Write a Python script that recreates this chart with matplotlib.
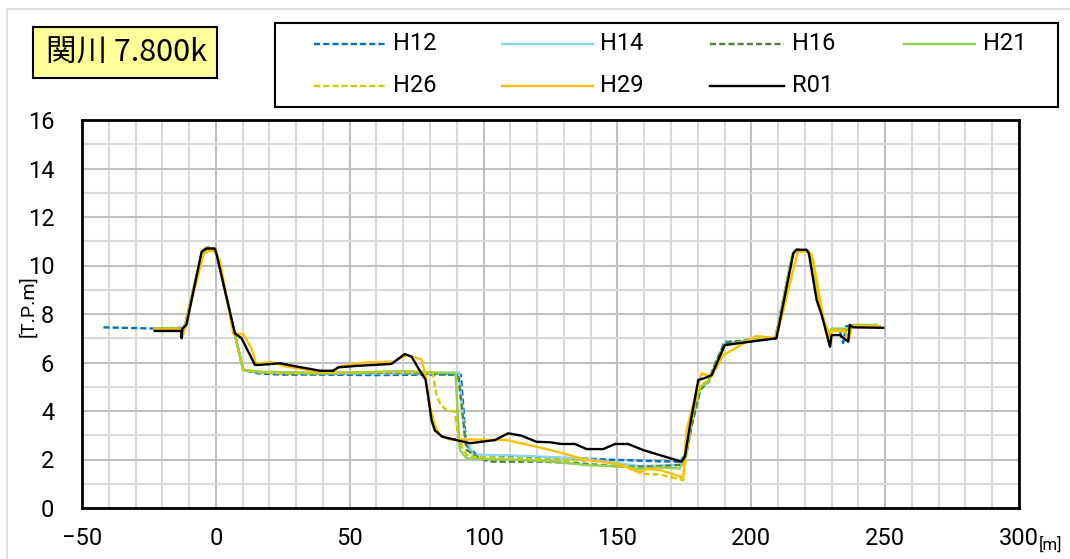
import matplotlib
matplotlib.use('Agg')
import matplotlib.pyplot as plt
from matplotlib.lines import Line2D
from matplotlib.patches import Rectangle

NUMF = 'Roboto'
CJK = 'Noto Sans CJK JP'

# ---------------- data ----------------
title_text = "関川 7.800k"
series_names = ["H12", "H14", "H16", "H21", "H26", "H29", "R01"]

h12_x = [-42, -23, -13, -12.6, -11.5, -5, -3, -1, 0.5, 7, 10.2, 16, 25, 40, 60, 80, 91.5, 93.5, 97.4,
         110, 121, 135, 149.7, 165, 173.3, 175.8, 178, 181, 184, 186, 190, 200, 209, 215.5, 217, 221,
         222.5, 226.5, 229, 230, 233, 234.3, 235.5, 238, 247]
h12_y = [7.45, 7.4, 7.43, 7.1, 7.55, 10.6, 10.75, 10.7, 10.4, 7.2, 5.69, 5.55, 5.5, 5.5, 5.48, 5.5, 5.5,
         2.6, 2.19, 2.15, 2.09, 2.05, 1.98, 1.93, 1.91, 2.25, 3.6, 4.9, 5.2, 5.8, 6.85, 6.9, 7.0, 10.5,
         10.65, 10.6, 10.4, 7.9, 7.1, 7.35, 7.35, 6.8, 7.5, 7.5, 7.55]

h14_x = [-22.8, -12.8, -12.3, -11.5, -5, -3, -1, 0.5, 7, 10.2, 16, 25, 40, 60, 80, 90.8, 93, 96, 110,
         121, 138.5, 158.4, 173.3, 175.5, 178, 181, 184, 186, 190, 200, 209, 215.5, 217, 221, 222.5,
         226.5, 229, 230, 236, 238, 247]
h14_y = [7.4, 7.4, 7.2, 7.55, 10.6, 10.7, 10.7, 10.4, 7.2, 5.7, 5.6, 5.58, 5.55, 5.55, 5.55, 5.6, 3.0,
         2.2, 2.17, 2.12, 2.02, 1.73, 1.77, 2.2, 3.8, 5.0, 5.2, 5.7, 6.8, 6.9, 7.0, 10.5, 10.65, 10.6,
         10.4, 7.9, 7.1, 7.35, 7.35, 7.5, 7.5]

h16_x = [-22.8, -12.8, -12.3, -11.5, -5, -3, -1, 0.5, 7, 10.2, 16, 25, 40, 60, 80, 90.5, 93.6, 98.6,
         102.4, 121, 135, 152.1, 165, 173.3, 175.5, 178, 181, 184, 186, 190, 200, 209, 215.5, 217, 221,
         222.5, 226.5, 229, 230, 236, 238, 247]
h16_y = [7.4, 7.4, 7.2, 7.55, 10.6, 10.7, 10.7, 10.4, 7.2, 5.7, 5.6, 5.55, 5.55, 5.58, 5.55, 5.5, 2.4,
         2.05, 1.91, 1.91, 1.85, 1.70, 1.72, 1.78, 2.2, 3.5, 4.9, 5.2, 5.8, 6.8, 6.95, 7.0, 10.5, 10.65,
         10.6, 10.4, 7.9, 7.1, 7.35, 7.35, 7.5, 7.5]

h21_x = [-22.8, -12.8, -12.3, -11.5, -5, -3.5, -1, 0.5, 7, 10.2, 16.4, 25, 40, 55, 70, 80, 89.5, 91.1,
         93.6, 110, 124.8, 138.5, 153.4, 158.4, 165, 173.3, 175.5, 178, 181, 184, 186, 190, 200, 209,
         215.5, 217, 221, 222.5, 226.5, 229, 230, 236, 238, 246.8]
h21_y = [7.4, 7.4, 7.2, 7.55, 10.6, 10.75, 10.7, 10.4, 7.2, 5.69, 5.62, 5.6, 5.58, 5.6, 5.65, 5.6, 5.56,
         2.4, 2.05, 2.0, 1.92, 1.77, 1.70, 1.6, 1.68, 1.63, 2.1, 4.0, 5.0, 5.2, 5.7, 6.7, 6.95, 7.0,
         10.5, 10.65, 10.6, 10.4, 7.9, 7.2, 7.4, 7.4, 7.55, 7.55]

h26_x = [-22.8, -12.8, -12.3, -11.5, -5, -3, -1, 0.5, 7, 10.2, 16, 25, 40, 60, 75, 81, 82.5, 84, 86.2,
         89.3, 90.5, 92.4, 94.2, 110, 125, 140, 150, 159.6, 166, 174.6, 175.5, 178, 181, 184, 186, 190,
         200, 209, 215.5, 217, 221, 222.5, 226.5, 229, 230, 236, 238, 247]
h26_y = [7.4, 7.4, 7.2, 7.55, 10.6, 10.7, 10.7, 10.4, 7.2, 5.7, 5.6, 5.55, 5.55, 5.6, 5.6, 5.6, 4.6,
         4.25, 4.04, 3.97, 2.94, 2.4, 2.12, 2.05, 2.0, 1.95, 1.85, 1.40, 1.38, 1.15, 2.0, 3.8, 5.0, 5.3,
         5.7, 6.7, 6.9, 7.0, 10.5, 10.65, 10.6, 10.4, 7.9, 7.1, 7.35, 7.35, 7.5, 7.5]

h29_x = [-22.8, -12.8, -12.3, -11.5, -4.5, -2.5, -0.5, 1.5, 6.5, 10.2, 13.3, 15.2, 16.4, 20.2, 26.4,
         38.9, 43.8, 46.3, 56.3, 66.2, 71.2, 76.8, 78.3, 79.9, 81.8, 83.7, 87.4, 91.1, 108.6, 119.8,
         129.8, 138.5, 148.4, 153.4, 158.4, 160.9, 165.9, 174.6, 175.8, 181.4, 185.2, 189.5, 201.9,
         209.4, 217.3, 221.5, 223, 227, 229.5, 230, 235, 236.5, 237.5, 248]
h29_y = [7.35, 7.35, 7.1, 7.5, 10.5, 10.6, 10.6, 10.2, 7.2, 7.17, 6.58, 5.9, 5.95, 6.03, 5.83, 5.62,
         5.62, 5.84, 6.01, 6.03, 6.31, 6.13, 5.5, 4.2, 3.42, 3.0, 2.82, 2.83, 2.8, 2.53, 2.25, 1.98,
         1.84, 1.68, 1.46, 1.6, 1.57, 1.25, 3.22, 5.55, 5.42, 6.3, 7.09, 7.0, 10.55, 10.6, 10.3, 7.8,
         7.0, 7.3, 7.3, 6.9, 7.5, 7.5]

r01_x = [-22.8, -12.8, -12.8, -12.5, -11, -5.3, -3.5, -0.4, 0.2, 7.1, 9.6, 14.6, 16.4, 23.9, 28.9,
         38.9, 43.8, 45.7, 52.6, 65.6, 70.6, 73.1, 76.5, 78.3, 79.3, 80.6, 81.8, 84.6, 89.9, 94.9,
         104.2, 109.2, 114.2, 119.8, 124.8, 129.1, 134.1, 138.5, 144.7, 149.1, 154.0, 159.6, 174.0,
         175.2, 177.0, 180.2, 182.7, 185.2, 190.1, 209.4, 215.7, 216.8, 220.6, 221.5, 224.4, 226.3,
         228.1, 229.4, 230.0, 233.1, 236.2, 236.8, 238.0, 249.3]
r01_y = [7.3, 7.3, 7.0, 7.4, 7.55, 10.57, 10.7, 10.7, 10.5, 7.2, 7.0, 5.9, 5.9, 5.97, 5.86, 5.66,
         5.66, 5.8, 5.86, 5.94, 6.35, 6.24, 5.6, 5.3, 4.6, 3.6, 3.2, 2.94, 2.8, 2.67, 2.8, 3.08, 2.98,
         2.73, 2.71, 2.64, 2.64, 2.43, 2.43, 2.64, 2.64, 2.39, 1.91, 2.12, 3.35, 5.28, 5.36, 5.48,
         6.72, 7.0, 10.5, 10.65, 10.65, 10.5, 8.58, 7.96, 7.2, 6.65, 7.13, 7.13, 6.86, 7.55, 7.45,
         7.43]

x_ticks = [-50, 0, 50, 100, 150, 200, 250, 300]
y_ticks = [0, 2, 4, 6, 8, 10, 12, 14, 16]

# ---------------- styles ----------------
DASH = (2.6, 1.3)
styles = {
    "H12": dict(color="#0070C0", dashes=DASH),
    "H14": dict(color="#8DD3F7", dashes=None),
    "H16": dict(color="#548235", dashes=DASH),
    "H21": dict(color="#92D050", dashes=None),
    "H26": dict(color="#CCCC00", dashes=DASH),
    "H29": dict(color="#FFC000", dashes=None),
    "R01": dict(color="#000000", dashes=None),
}
data = {
    "H12": (h12_x, h12_y), "H14": (h14_x, h14_y), "H16": (h16_x, h16_y),
    "H21": (h21_x, h21_y), "H26": (h26_x, h26_y), "H29": (h29_x, h29_y),
    "R01": (r01_x, r01_y),
}
LW = 1.7

W, H = 1070, 559
fig = plt.figure(figsize=(W / 100, H / 100), dpi=100)
fig.patch.set_facecolor('white')

# outer light frame
fig.add_artist(Rectangle((7 / W, -0.2), 1.2, (H - 9) / H + 0.2, transform=fig.transFigure,
                         facecolor='none', edgecolor='#D9D9D9', lw=1.2))

ax = fig.add_axes([82 / W, 1 - 508 / H, (1019 - 82) / W, (508 - 120) / H])
for name in series_names:
    xs, ys = data[name]
    st = styles[name]
    ln, = ax.plot(xs, ys, color=st["color"], lw=LW, solid_joinstyle='round')
    if st["dashes"]:
        ln.set_dashes(st["dashes"])

ax.set_xlim(-50, 300)
ax.set_ylim(0, 16)
ax.set_xticks(x_ticks)
ax.set_xticks(range(-50, 301, 10), minor=True)
ax.set_yticks(y_ticks)
ax.set_yticks(range(0, 17), minor=True)
ax.grid(which='minor', color='#D9D9D9', lw=1.5)
ax.grid(which='major', color='#BFBFBF', lw=1.5)
ax.set_axisbelow(True)
ax.tick_params(which='both', length=0)
ax.tick_params(axis='x', pad=14, labelsize=17)
ax.tick_params(axis='y', pad=20, labelsize=17)
for lab in ax.get_xticklabels() + ax.get_yticklabels():
    lab.set_fontfamily(NUMF)
for sp in ax.spines.values():
    sp.set_linewidth(2)
    sp.set_color('black')

fig.text(28 / W, 1 - 306 / H, "[T.P.m]", rotation=90, ha='center', va='center',
         fontsize=14, family=NUMF)
fig.text(1050 / W, 1 - 545 / H, "[m]", ha='center', va='center', fontsize=12, family=NUMF)

# title box
fig.add_artist(Rectangle((33 / W, 1 - 78 / H), (217 - 33) / W, (78 - 27) / H,
                         transform=fig.transFigure, facecolor='#FFFF99', edgecolor='black', lw=1.5))
fig.text(126 / W, 1 - 53 / H, title_text, ha='center', va='center', fontsize=22,
         family=[CJK, 'DejaVu Sans'])

# legend (manual layout)
fig.add_artist(Rectangle((275 / W, 1 - 107 / H), (1058 - 275) / W, (107 - 23) / H,
                         transform=fig.transFigure, facecolor='white', edgecolor='black', lw=1.5))
col_x = [(314, 385, 393), (502, 593, 600), (710, 784, 792), (904, 975, 983)]
row_y = [44, 86]
for i, name in enumerate(series_names):
    r, c = divmod(i, 4)
    x0, x1, tx = col_x[c]
    y = 1 - row_y[r] / H
    st = styles[name]
    l = Line2D([x0 / W, x1 / W], [y, y], transform=fig.transFigure, color=st["color"], lw=LW)
    if st["dashes"]:
        l.set_dashes(st["dashes"])
    fig.add_artist(l)
    fig.text(tx / W, y, name, ha='left', va='center', fontsize=17, family=NUMF)

fig.savefig('out.png', dpi=100)
